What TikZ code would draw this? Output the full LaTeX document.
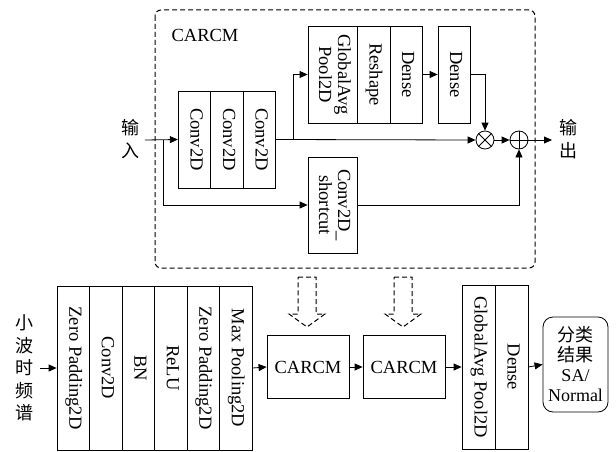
\documentclass[tikz,border=0pt]{standalone}
\usepackage{fontspec}
\setmainfont{Liberation Serif}
\newfontfamily\cjk{Noto Sans CJK SC}
\usepackage{tikz}
\usetikzlibrary{shapes, arrows.meta, positioning, calc}

\newcommand{\vlabel}[1]{\rotatebox{-90}{\begin{tabular}{@{}c@{}}#1\end{tabular}}}

\tikzset{
  blk/.style={draw, line width=0.8pt, inner sep=0pt, minimum width=32.5pt},
  arr/.style={line width=0.8pt, -{Triangle[length=8pt, width=7pt]}},
  op/.style={draw, circle, line width=0.8pt, minimum size=18pt, inner sep=0pt},
  hollow/.style={draw, line width=1pt, dash pattern=on 5pt off 3pt}
}

\begin{document}
\begin{tikzpicture}[x=1pt, y=-1pt, font=\fontsize{18.5}{19}\selectfont, line width=0.8pt]
  \useasboundingbox (0,0) rectangle (616,452);

  % CARCM module
  \draw[line width=1pt, dash pattern=on 5pt off 3pt, rounded corners=6pt] (155,10) rectangle (535,268);
  \node (carcmT) at (205,35) {CARCM};

  \node[blk, minimum height=97pt] (cva) at (194.5,139.5) {\vlabel{Conv2D}};
  \node[blk, minimum height=97pt] (cvb) at (227,139.5) {\vlabel{Conv2D}};
  \node[blk, minimum height=97pt] (cvc) at (259.5,139.5) {\vlabel{Conv2D}};

  \node[blk, minimum width=49pt, minimum height=97pt] (gap) at (332.5,74.5) {\vlabel{GlobalAvg\\Pool2D}};
  \node[blk, minimum width=33pt, minimum height=97pt] (resh) at (373.5,74.5) {\vlabel{Reshape}};
  \node[blk, minimum width=32pt, minimum height=97pt] (dnsa) at (406,74.5) {\vlabel{Dense}};
  \node[blk, minimum width=32pt, minimum height=97pt] (dnsb) at (454,74.5) {\vlabel{Dense}};

  \node[blk, minimum width=49pt, minimum height=96pt] (sc) at (332.5,205) {\vlabel{Conv2D\_\\shortcut}};

  \node[op] (mul) at (485,140) {};
  \draw (mul.north east) -- (mul.south west) (mul.north west) -- (mul.south east);
  \node[op] (add) at (519,140) {};
  \draw (add.north) -- (add.south) (add.west) -- (add.east);

  \node[font=\fontsize{18}{23}\selectfont\cjk, align=center] (inlab) at (130,139) {输\\入};
  \node[font=\fontsize{18}{23}\selectfont\cjk, align=center] (outlab) at (568,139) {输\\出};

  \coordinate (inL) at (145,140);
  \coordinate (brA) at (163,140);
  \coordinate (brB) at (293,140);
  \coordinate (outR) at (552,140);

  \draw[arr] (inL) -- (cva.west);
  \draw[arr] (brA) |- (sc.west);
  \draw[arr] (cvc.east) -- (mul.west);
  \draw[arr] (brB) |- (gap.west);
  \draw[arr] (dnsa.east) -- (dnsb.west);
  \draw[arr] (dnsb.east) -| (mul.north);
  \draw[arr] (mul.east) -- (add.west);
  \draw[arr] (sc.east) -| (add.south);
  \draw[arr] (add.east) -- (outR);

  % Main network
  \node[font=\fontsize{18}{22.5}\selectfont\cjk, align=center] (wav) at (25,368) {小\\波\\时\\频\\谱};

  \node[blk, minimum height=164pt] (zpa) at (73.25,368) {\vlabel{Zero Padding2D}};
  \node[blk, minimum height=164pt] (conv) at (105.75,368) {\vlabel{Conv2D}};
  \node[blk, minimum height=164pt] (bn) at (138.25,368) {\vlabel{BN}};
  \node[blk, minimum height=164pt] (relu) at (170.75,368) {\vlabel{ReLU}};
  \node[blk, minimum height=164pt] (zpb) at (203.25,368) {\vlabel{Zero Padding2D}};
  \node[blk, minimum height=164pt] (mp) at (235.75,368) {\vlabel{Max Pooling2D}};

  \node[blk, minimum width=82pt, minimum height=63pt] (cma) at (308,367) {CARCM};
  \node[blk, minimum width=82pt, minimum height=63pt] (cmb) at (404,367) {CARCM};

  \node[blk, minimum width=33pt, minimum height=164pt] (gapb) at (478.5,367) {\vlabel{GlobalAvg Pool2D}};
  \node[blk, minimum width=33pt, minimum height=164pt] (dnsc) at (511.5,367) {\vlabel{Dense}};

  \node[draw, rounded corners=10pt, minimum width=65pt, minimum height=95pt, inner sep=0pt,
        align=center, font=\fontsize{18}{20}\selectfont] (res) at (575.5,364.5)
        {{\cjk 分类}\\{\cjk 结果}\\SA/\\Normal};

  \coordinate (wavR) at (40,368);
  \draw[arr] (wavR) -- (zpa.west);
  \draw[arr] (mp.east) -- (cma.west);
  \draw[arr] (cma.east) -- (cmb.west);
  \draw[arr] (cmb.east) -- (gapb.west);
  \draw[arr] (dnsc.east) -- (res.west);

  % Hollow arrows
  \foreach \cx in {307,403} {
    \draw[hollow] (\cx-9,277) -- (\cx+9,277) -- (\cx+9,314) -- (\cx+18,314) -- (\cx,327)
      -- (\cx-18,314) -- (\cx-9,314) -- cycle;
  }
\end{tikzpicture}
\end{document}
